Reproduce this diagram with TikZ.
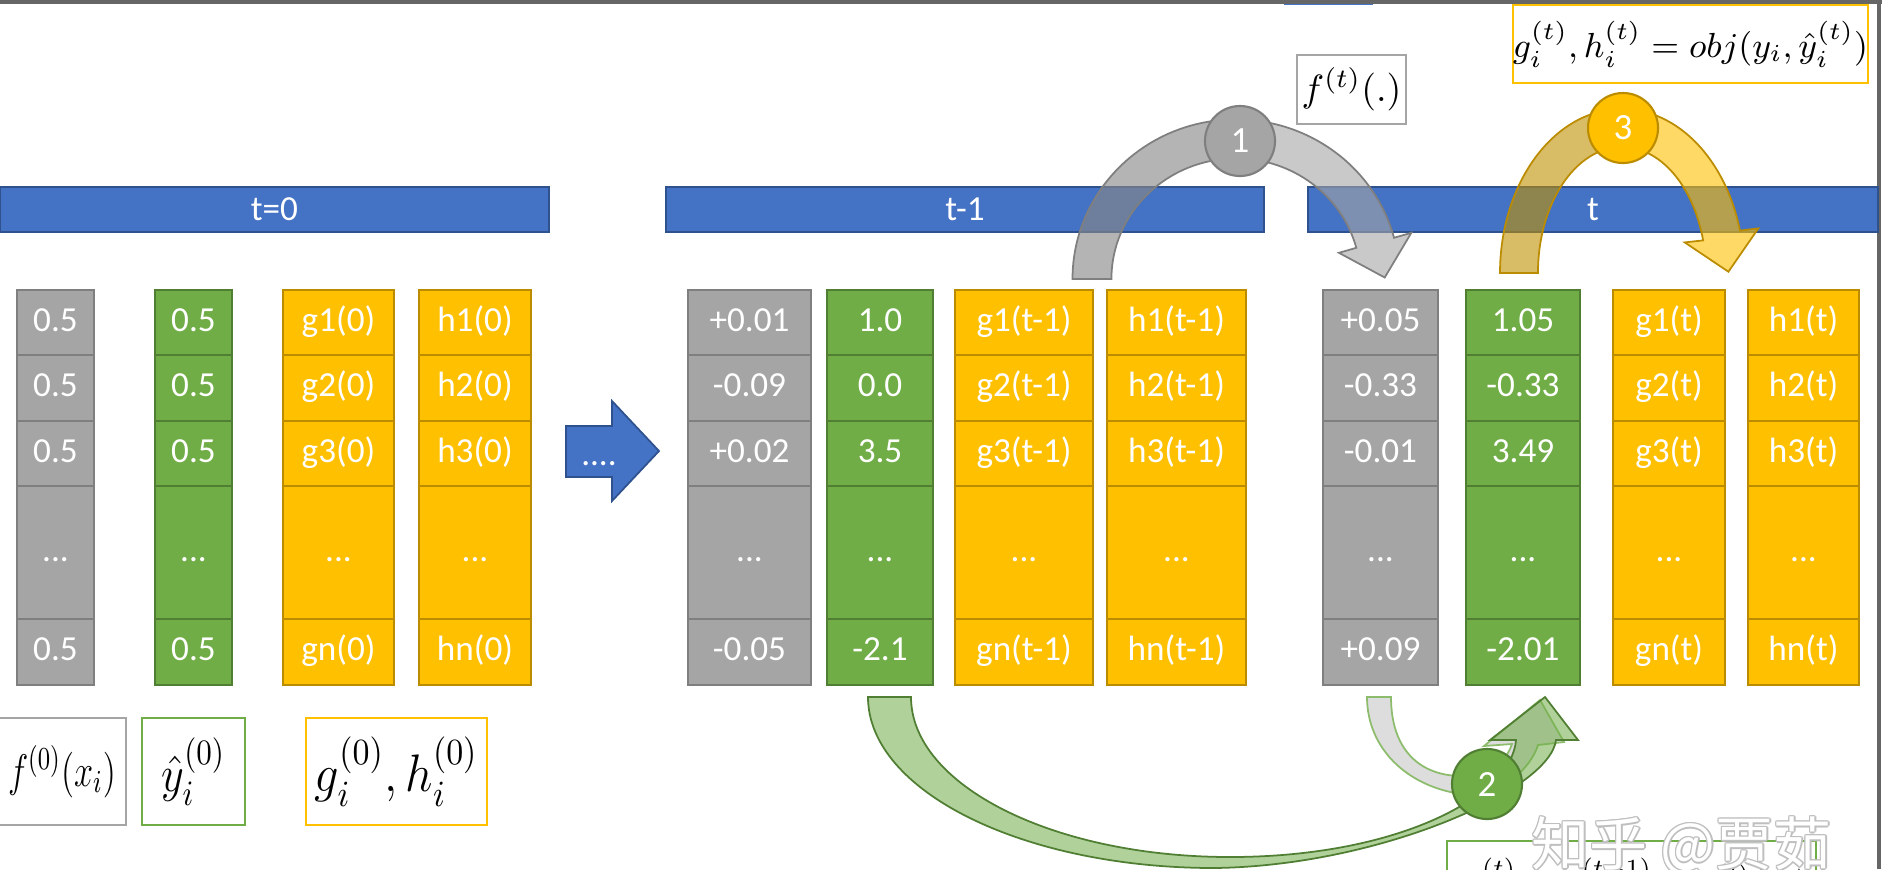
\documentclass[tikz,border=0pt]{standalone}
\usepackage{fix-cm}
\usepackage{amsmath,amssymb}
\usepackage{graphicx}
\usepackage{fontspec}
\setmainfont{Carlito}
\newfontfamily\cjkfont{Noto Sans CJK SC}
\usepackage{tikz}
\usetikzlibrary{positioning,calc}
\usepackage{xcolor}

\definecolor{barblue}{HTML}{4472C4}
\definecolor{barline}{HTML}{2F528F}
\definecolor{cellgray}{HTML}{A5A5A5}
\definecolor{graybd}{HTML}{7F7F7F}
\definecolor{backgray}{HTML}{888888}
\definecolor{cellgreen}{HTML}{70AD47}
\definecolor{greenbd}{HTML}{507E32}
\definecolor{cellgold}{HTML}{FFC000}
\definecolor{goldbd}{HTML}{BC8C00}
\definecolor{goldback}{HTML}{BF9000}
\definecolor{framegray}{HTML}{666666}

\tikzset{
  cell/.style={draw, line width=0.5pt, inner sep=0pt, outer sep=0pt, text=white,
    text height=7.5pt, text depth=2.5pt, font=\fontsize{10}{12}\selectfont},
  fcell/.style={cell, fill=cellgray, draw=graybd},
  ycell/.style={cell, fill=cellgreen, draw=greenbd},
  gcell/.style={cell, fill=cellgold, draw=goldbd},
  bar/.style={draw=barline, fill=barblue, line width=0.6pt, inner sep=0pt,
    minimum height=0.45cm, text=white, font=\fontsize{10}{12}\selectfont},
  badge/.style={circle, minimum size=0.7cm, inner sep=0pt, line width=0.6pt,
    text=white, font=\fontsize{10.5}{12}\selectfont},
  formbox/.style={draw, line width=0.6pt, inner sep=0pt, fill=white},
  wmark/.style={anchor=north west, inner sep=0pt, font=\cjkfont\fontsize{16.5}{18}\selectfont},
}

% one column of cells: name, x centre, width, style, rows 1-3 and n
\newcommand{\celldots}{...}
\newcommand{\cellcolumn}[8]{%
  \foreach \lab/\yc/\hh [count=\r] in {#5/322.5/65,#6/388/66,#7/453.5/65,\celldots/552.5/133,#8/652/66}
    \node[#4, minimum width=#3*0.01cm, minimum height=\hh*0.01cm] (#1-\r) at (#2,\yc) {\lab};%
}

\begin{document}
\begin{tikzpicture}[x=0.01cm, y=-0.01cm]
\useasboundingbox (0,0) rectangle (1882,869);
\clip (0,0) rectangle (1882,869);

% frame
\fill[framegray] (0,0) rectangle (1882,3.5);
\fill[framegray] (1877,0) rectangle (1881,869);
\fill[barblue] (1284,3.5) rectangle (1373,5);

% time bars
\node[bar, minimum width=5.49cm] (bar0) at (274.5,209.5) {t=0};
\node[bar, minimum width=5.98cm] (bar1) at (965,209.5) {t-1};
\node[bar, minimum width=5.70cm] (bar2) at (1593,209.5) {t};

% t=0
\cellcolumn{f0}{55.5}{77}{fcell}{0.5}{0.5}{0.5}{0.5}
\cellcolumn{y0}{193.5}{77}{ycell}{0.5}{0.5}{0.5}{0.5}
\cellcolumn{g0}{338.5}{111}{gcell}{g1(0)}{g2(0)}{g3(0)}{gn(0)}
\cellcolumn{h0}{475}{112}{gcell}{h1(0)}{h2(0)}{h3(0)}{hn(0)}

% t-1
\cellcolumn{f1}{749.5}{123}{fcell}{+0.01}{-0.09}{+0.02}{-0.05}
\cellcolumn{y1}{880}{106}{ycell}{1.0}{0.0}{3.5}{-2.1}
\cellcolumn{g1}{1024}{138}{gcell}{g1(t-1)}{g2(t-1)}{g3(t-1)}{gn(t-1)}
\cellcolumn{h1}{1176.5}{139}{gcell}{h1(t-1)}{h2(t-1)}{h3(t-1)}{hn(t-1)}

% t
\cellcolumn{f2}{1380.5}{115}{fcell}{+0.05}{-0.33}{-0.01}{+0.09}
\cellcolumn{y2}{1523}{114}{ycell}{1.05}{-0.33}{3.49}{-2.01}
\cellcolumn{g2}{1669}{112}{gcell}{g1(t)}{g2(t)}{g3(t)}{gn(t)}
\cellcolumn{h2}{1803.5}{111}{gcell}{h1(t)}{h2(t)}{h3(t)}{hn(t)}

% skip arrow
\draw[barline, fill=barblue, line width=0.5pt] (566,426) -- (612,426) -- (612,401) -- (659,451)
  -- (612,501) -- (612,477) -- (566,477) -- cycle;
\node[anchor=base, inner sep=0pt, text=white, font=\fontsize{10}{12}\selectfont] (skip) at (599,465) {....};

% step 1: new tree
\draw[graybd, line width=0.5pt, fill=backgray, fill opacity=0.63] (1072.5,279)
  arc[start angle=180, end angle=90, x radius=1.635cm, y radius=1.595cm] -- (1236,158.5)
  arc[start angle=90, end angle=180, x radius=1.245cm, y radius=1.205cm] -- cycle;
\draw[graybd, line width=0.5pt, fill=cellgray, fill opacity=0.6] (1236,119.5)
  arc[start angle=90, end angle=15, x radius=1.635cm, y radius=1.595cm]
  -- (1411.3,232.8) -- (1384.7,277.5) -- (1338.9,252.8) -- (1356.3,247.8)
  arc[start angle=15, end angle=90, x radius=1.245cm, y radius=1.205cm] -- cycle;
\node[badge, fill=cellgray, draw=graybd] (step1) at (1240,141) {1};
\node[formbox, draw=cellgray, minimum width=1.09cm, minimum height=0.69cm,
  font=\fontsize{10.8}{13}\selectfont] (treebox) at (1351.5,89.5) {$f^{(t)}(.)$};

% step 3: gradients
\draw[goldbd, line width=0.5pt, fill=goldback, fill opacity=0.6] (1500,273)
  arc[start angle=180, end angle=90, x radius=1.22cm, y radius=1.64cm] -- (1622,147)
  arc[start angle=90, end angle=180, x radius=0.84cm, y radius=1.26cm] -- cycle;
\draw[goldbd, line width=0.5pt, fill=cellgold, fill opacity=0.6] (1622,109)
  arc[start angle=90, end angle=15, x radius=1.22cm, y radius=1.64cm]
  -- (1758.3,228.4) -- (1728.4,271.7) -- (1684.7,242.4) -- (1703.1,240.4)
  arc[start angle=15, end angle=90, x radius=0.84cm, y radius=1.26cm] -- cycle;
\node[badge, fill=cellgold, draw=goldbd] (step3) at (1623,128) {3};
\node[formbox, draw=cellgold, minimum width=3.51cm, minimum height=0.78cm,
  font=\fontsize{9.9}{12}\selectfont] (objbox) at (1690.5,44)
  {$g_i^{(t)},h_i^{(t)} = obj(y_i,\hat{y}_i^{(t)})$};

% step 2: update prediction
\draw[cellgreen!80, line width=0.5pt, fill=gray!30, fill opacity=0.9] (1367,697)
  .. controls (1367,750) and (1410,790) .. (1470,795)
  .. controls (1500,795) and (1530,770) .. (1538,745)
  -- (1564,742) -- (1540,700) -- (1484,746) -- (1512,744)
  .. controls (1505,765) and (1485,776) .. (1462,776)
  .. controls (1420,776) and (1391,750) .. (1391,697) -- cycle;
\draw[greenbd, line width=0.5pt, fill=cellgreen, fill opacity=0.55] (868,697)
  .. controls (868,791) and (1023,868) .. (1214,868)
  .. controls (1380,866) and (1550,790) .. (1556,740)
  -- (1578,740) -- (1545,697) -- (1490,740) -- (1516,740)
  .. controls (1512,795) and (1400,857) .. (1230,857)
  .. controls (1053,857) and (911,785) .. (911,697) -- cycle;
\node[badge, fill=cellgreen, draw=greenbd] (step2) at (1487,784) {2};

% legend
\node[formbox, draw=cellgray, minimum width=1.28cm, minimum height=1.07cm] (legf) at (62,771.5)
  {\scalebox{0.75}[1]{\fontsize{13}{15}\selectfont$f^{(0)}(x_i)$}};
\node[formbox, draw=cellgreen, minimum width=1.03cm, minimum height=1.07cm] (legy) at (193.5,771.5)
  {\scalebox{0.87}[1]{\fontsize{14.5}{17}\selectfont$\hat{y}_i^{(0)}$}};
\node[formbox, draw=cellgold, minimum width=1.81cm, minimum height=1.07cm] (legg) at (396.5,771.5)
  {\scalebox{0.92}[1]{\fontsize{15}{18}\selectfont$g_i^{(0)},h_i^{(0)}$}};

% next prediction (cut off)
\node[formbox, draw=cellgreen, minimum width=3.69cm, minimum height=0.89cm] (nextbox) at (1631.5,885.5) {};
\node[anchor=base west, inner sep=0pt, font=\fontsize{10}{12}\selectfont] (nextform) at (1463,895)
  {$\hat{y}_i^{(t)} = \hat{y}_i^{(t-1)} + f^{(t)}(x_i)$};

% watermark
\foreach \dx/\dy [count=\k] in {-1.5/0,1.5/0,0/-1.5,0/1.5,-1/-1,1/1,-1/1,1/-1}
  \node[wmark, text=gray!50] (wmo\k) at (1531+\dx,816+\dy) {知乎 @贾茹};
\node[wmark, text=white] (wm) at (1531,816) {知乎 @贾茹};
\end{tikzpicture}
\end{document}
